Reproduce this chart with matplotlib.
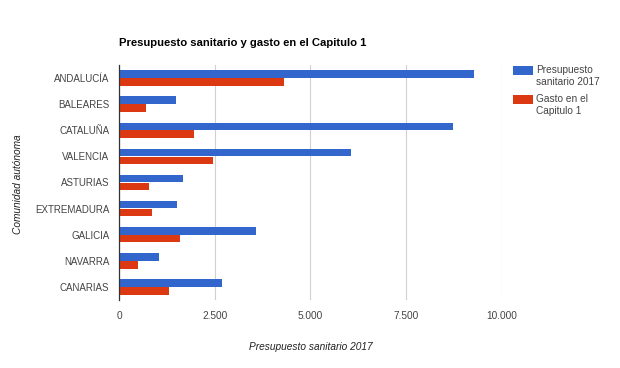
"""
Presupuesto sanitario 2017 y gasto en el Capitulo 1 por comunidad autonoma.
Recreated as a Google-Charts-style horizontal grouped bar chart.
"""

import matplotlib

matplotlib.use("Agg")
import matplotlib.patches as mpatches
import matplotlib.pyplot as plt
import numpy as np

OUTPUT_PATH = "out.png"

COLOR_BLUE = "#3366CC"
COLOR_RED = "#DC3912"
COLOR_GRID = "#D0D0D0"
COLOR_BASE = "#333333"
COLOR_TICK = "#444444"
COLOR_TITLE = "#000000"

W, H, DPI = 620, 368, 100

# --- data (millions of euros) ---
comunidades = [
    "ANDALUCÍA",
    "BALEARES",
    "CATALUÑA",
    "VALENCIA",
    "ASTURIAS",
    "EXTREMADURA",
    "GALICIA",
    "NAVARRA",
    "CANARIAS",
]
presupuesto_2017 = [9290, 1490, 8730, 6060, 1670, 1520, 3590, 1040, 2700]
gasto_capitulo_1 = [4310, 710, 1950, 2450, 780, 850, 1590, 490, 1300]

series_labels = ["Presupuesto\nsanitario 2017", "Gasto en el\nCapitulo 1"]
x_ticks = [0, 2500, 5000, 7500, 10000]
x_ticklabels = ["0", "2.500", "5.000", "7.500", "10.000"]


def fx(px):
    return px / W


def fy(py):
    # pixel rows measured from the top
    return 1 - py / H


def main():
    plt.rcParams["font.family"] = ["Liberation Sans", "DejaVu Sans"]

    fig = plt.figure(figsize=(W / DPI, H / DPI), dpi=DPI)
    fig.patch.set_facecolor("white")

    left, right, top, bottom = 119, 501.5, 65, 300
    ax = fig.add_axes([fx(left), fy(bottom), fx(right - left), (bottom - top) / H])

    y = np.arange(len(comunidades))
    bar_h = 0.29
    ax.barh(y - 0.15, presupuesto_2017, height=bar_h, color=COLOR_BLUE, zorder=3)
    ax.barh(y + 0.15, gasto_capitulo_1, height=bar_h, color=COLOR_RED, zorder=3)

    ax.set_xlim(0, 10000)
    ax.set_ylim(len(comunidades) - 0.5, -0.5)

    ax.set_xticks(x_ticks)
    ax.set_xticklabels(x_ticklabels)
    ax.set_yticks(y)
    ax.set_yticklabels(comunidades)
    ax.tick_params(axis="both", length=0, labelcolor=COLOR_TICK)
    ax.tick_params(axis="x", pad=8, labelsize=7.3)
    ax.tick_params(axis="y", pad=7, labelsize=7.0)

    ax.grid(axis="x", color=COLOR_GRID, linewidth=0.8, zorder=0)
    for side in ("top", "right", "bottom"):
        ax.spines[side].set_visible(False)
    ax.spines["left"].set_color(COLOR_BASE)
    ax.spines["left"].set_linewidth(0.9)
    ax.spines["left"].set_zorder(4)

    # --- titles ---
    fig.text(fx(119), fy(43), "Presupuesto sanitario y gasto en el Capitulo 1",
             ha="left", va="center", fontsize=8.1, fontweight="bold", color=COLOR_TITLE)
    fig.text(fx(18), fy(184), "Comunidad autónoma", rotation=90, ha="center",
             va="center", fontsize=7.3, style="italic", color="#222222")
    fig.text(fx(311), fy(347), "Presupuesto sanitario 2017", ha="center",
             va="center", fontsize=7.3, style="italic", color="#222222")

    # --- legend ---
    for (ytop, label), color in zip([(66, series_labels[0]), (95, series_labels[1])],
                                    [COLOR_BLUE, COLOR_RED], strict=True):
        rect = mpatches.Rectangle((fx(513), fy(ytop + 9)), fx(20), 9 / H,
                                  transform=fig.transFigure, facecolor=color,
                                  edgecolor="none")
        fig.add_artist(rect)
        fig.text(fx(536), fy(ytop - 1), label, ha="left", va="top", fontsize=7.3,
                 color=COLOR_TICK, linespacing=1.3)

    fig.savefig(OUTPUT_PATH, dpi=DPI, facecolor="white")
    plt.close(fig)


if __name__ == "__main__":
    main()
